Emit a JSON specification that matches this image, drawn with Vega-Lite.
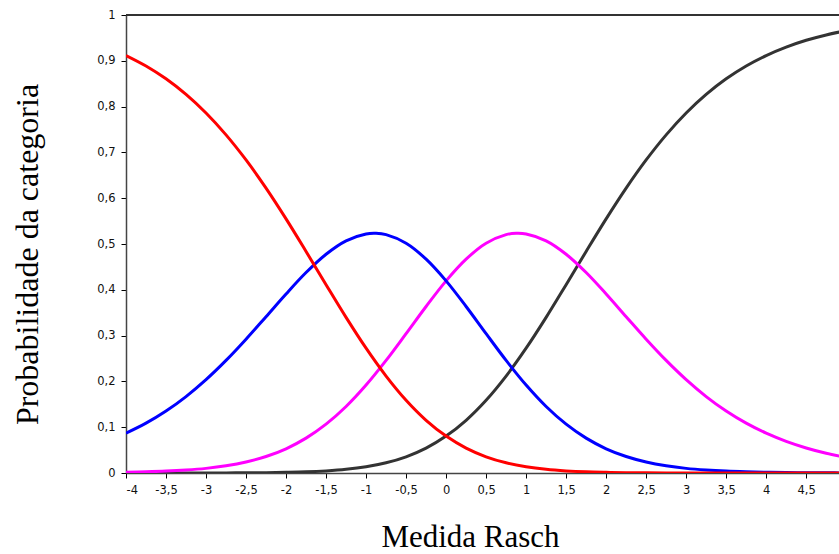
{
  "$schema": "https://vega.github.io/schema/vega-lite/v6.json",
  "width": 713,
  "height": 458,
  "autosize": {"type": "none"},
  "padding": {"left": 126, "top": 15, "right": 0, "bottom": 81},
  "background": "white",
  "config": {"view": {"stroke": null}},
  "data": {"values": [
    {"x":-4,"c":"4","p":0},{"x":-3.75,"c":"4","p":0},{"x":-3.5,"c":"4","p":0},{"x":-3.25,"c":"4","p":0.0001},{"x":-3,"c":"4","p":0.0001},{"x":-2.75,"c":"4","p":0.0002},{"x":-2.5,"c":"4","p":0.0004},{"x":-2.25,"c":"4","p":0.0007},{"x":-2,"c":"4","p":0.0014},{"x":-1.75,"c":"4","p":0.0025},{"x":-1.5,"c":"4","p":0.0046},{"x":-1.25,"c":"4","p":0.008},{"x":-1,"c":"4","p":0.0136},{"x":-0.75,"c":"4","p":0.0223},{"x":-0.5,"c":"4","p":0.0354},{"x":-0.25,"c":"4","p":0.0544},{"x":0,"c":"4","p":0.0806},{"x":0.25,"c":"4","p":0.1151},{"x":0.5,"c":"4","p":0.1588},{"x":0.75,"c":"4","p":0.2116},{"x":1,"c":"4","p":0.2725},{"x":1.25,"c":"4","p":0.3398},{"x":1.5,"c":"4","p":0.4112},{"x":1.75,"c":"4","p":0.4837},{"x":2,"c":"4","p":0.5548},{"x":2.25,"c":"4","p":0.622},{"x":2.5,"c":"4","p":0.6835},{"x":2.75,"c":"4","p":0.7383},{"x":3,"c":"4","p":0.786},{"x":3.25,"c":"4","p":0.8266},{"x":3.5,"c":"4","p":0.8606},{"x":3.75,"c":"4","p":0.8886},{"x":4,"c":"4","p":0.9115},{"x":4.25,"c":"4","p":0.9299},{"x":4.5,"c":"4","p":0.9448},{"x":4.75,"c":"4","p":0.9565},{"x":5,"c":"4","p":0.9659},
    {"x":-4,"c":"3","p":0.0016},{"x":-3.75,"c":"3","p":0.0026},{"x":-3.5,"c":"3","p":0.0041},{"x":-3.25,"c":"3","p":0.0065},{"x":-3,"c":"3","p":0.0101},{"x":-2.75,"c":"3","p":0.0157},{"x":-2.5,"c":"3","p":0.024},{"x":-2.25,"c":"3","p":0.036},{"x":-2,"c":"3","p":0.0529},{"x":-1.75,"c":"3","p":0.0761},{"x":-1.5,"c":"3","p":0.1066},{"x":-1.25,"c":"3","p":0.1452},{"x":-1,"c":"3","p":0.192},{"x":-0.75,"c":"3","p":0.2458},{"x":-0.5,"c":"3","p":0.3042},{"x":-0.25,"c":"3","p":0.3636},{"x":0,"c":"3","p":0.4195},{"x":0.25,"c":"3","p":0.4669},{"x":0.5,"c":"3","p":0.5016},{"x":0.75,"c":"3","p":0.5204},{"x":0.875,"c":"3","p":0.5233},{"x":1,"c":"3","p":0.5219},{"x":1.25,"c":"3","p":0.507},{"x":1.5,"c":"3","p":0.4777},{"x":1.75,"c":"3","p":0.4377},{"x":2,"c":"3","p":0.3909},{"x":2.25,"c":"3","p":0.3413},{"x":2.5,"c":"3","p":0.2921},{"x":2.75,"c":"3","p":0.2458},{"x":3,"c":"3","p":0.2038},{"x":3.25,"c":"3","p":0.1669},{"x":3.5,"c":"3","p":0.1353},{"x":3.75,"c":"3","p":0.1088},{"x":4,"c":"3","p":0.0869},{"x":4.25,"c":"3","p":0.0691},{"x":4.5,"c":"3","p":0.0547},{"x":4.75,"c":"3","p":0.0431},{"x":5,"c":"3","p":0.0339},
    {"x":-4,"c":"2","p":0.0869},{"x":-3.75,"c":"2","p":0.1088},{"x":-3.5,"c":"2","p":0.1353},{"x":-3.25,"c":"2","p":0.1669},{"x":-3,"c":"2","p":0.2038},{"x":-2.75,"c":"2","p":0.2458},{"x":-2.5,"c":"2","p":0.2921},{"x":-2.25,"c":"2","p":0.3413},{"x":-2,"c":"2","p":0.3909},{"x":-1.75,"c":"2","p":0.4377},{"x":-1.5,"c":"2","p":0.4777},{"x":-1.25,"c":"2","p":0.507},{"x":-1,"c":"2","p":0.5219},{"x":-0.875,"c":"2","p":0.5233},{"x":-0.75,"c":"2","p":0.5204},{"x":-0.5,"c":"2","p":0.5016},{"x":-0.25,"c":"2","p":0.4669},{"x":0,"c":"2","p":0.4195},{"x":0.25,"c":"2","p":0.3636},{"x":0.5,"c":"2","p":0.3042},{"x":0.75,"c":"2","p":0.2458},{"x":1,"c":"2","p":0.192},{"x":1.25,"c":"2","p":0.1452},{"x":1.5,"c":"2","p":0.1066},{"x":1.75,"c":"2","p":0.0761},{"x":2,"c":"2","p":0.0529},{"x":2.25,"c":"2","p":0.036},{"x":2.5,"c":"2","p":0.024},{"x":2.75,"c":"2","p":0.0157},{"x":3,"c":"2","p":0.0101},{"x":3.25,"c":"2","p":0.0065},{"x":3.5,"c":"2","p":0.0041},{"x":3.75,"c":"2","p":0.0026},{"x":4,"c":"2","p":0.0016},{"x":4.25,"c":"2","p":0.001},{"x":4.5,"c":"2","p":0.0006},{"x":4.75,"c":"2","p":0.0004},{"x":5,"c":"2","p":0.0002},
    {"x":-4,"c":"1","p":0.9115},{"x":-3.75,"c":"1","p":0.8886},{"x":-3.5,"c":"1","p":0.8606},{"x":-3.25,"c":"1","p":0.8266},{"x":-3,"c":"1","p":0.786},{"x":-2.75,"c":"1","p":0.7383},{"x":-2.5,"c":"1","p":0.6835},{"x":-2.25,"c":"1","p":0.622},{"x":-2,"c":"1","p":0.5548},{"x":-1.75,"c":"1","p":0.4837},{"x":-1.5,"c":"1","p":0.4112},{"x":-1.25,"c":"1","p":0.3398},{"x":-1,"c":"1","p":0.2725},{"x":-0.75,"c":"1","p":0.2116},{"x":-0.5,"c":"1","p":0.1588},{"x":-0.25,"c":"1","p":0.1151},{"x":0,"c":"1","p":0.0806},{"x":0.25,"c":"1","p":0.0544},{"x":0.5,"c":"1","p":0.0354},{"x":0.75,"c":"1","p":0.0223},{"x":1,"c":"1","p":0.0136},{"x":1.25,"c":"1","p":0.008},{"x":1.5,"c":"1","p":0.0046},{"x":1.75,"c":"1","p":0.0025},{"x":2,"c":"1","p":0.0014},{"x":2.25,"c":"1","p":0.0007},{"x":2.5,"c":"1","p":0.0004},{"x":2.75,"c":"1","p":0.0002},{"x":3,"c":"1","p":0.0001},{"x":3.25,"c":"1","p":0},{"x":3.5,"c":"1","p":0},{"x":3.75,"c":"1","p":0},{"x":4,"c":"1","p":0},{"x":4.25,"c":"1","p":0},{"x":4.5,"c":"1","p":0},{"x":4.75,"c":"1","p":0},{"x":5,"c":"1","p":0}
  ]},
  "layer": [
    {
      "mark": {"type": "rule", "color": "#333333", "strokeWidth": 1},
      "encoding": {"y": {"datum": 1, "type": "quantitative", "scale": {"domain": [0, 1], "nice": false}}}
    },
    {
      "mark": {"type": "line", "strokeWidth": 3, "interpolate": "catmull-rom", "clip": true},
      "encoding": {
        "x": {
          "field": "x", "type": "quantitative",
          "scale": {"domain": [-4, 4.91], "nice": false, "zero": false},
          "axis": {
            "values": [-4,-3.5,-3,-2.5,-2,-1.5,-1,-0.5,0,0.5,1,1.5,2,2.5,3,3.5,4,4.5],
            "labelExpr": "replace(toString(datum.value), '.', ',')",
            "grid": false, "domainColor": "#444444", "domainWidth": 1.5, "tickColor": "#000000", "tickSize": 5,
            "labelFont": "DejaVu Sans", "labelFontSize": 11.5, "labelColor": "#111111", "labelPadding": 6,
            "title": "Medida Rasch", "titleFont": "Liberation Serif", "titleFontSize": 31, "titleFontWeight": "normal",
            "titleColor": "#000000", "titleX": 344, "titleY": 64, "titleBaseline": "middle", "titleAlign": "center"
          }
        },
        "y": {
          "field": "p", "type": "quantitative",
          "scale": {"domain": [0, 1], "nice": false},
          "axis": {
            "values": [0,0.1,0.2,0.3,0.4,0.5,0.6,0.7,0.8,0.9,1],
            "labelExpr": "replace(toString(datum.value), '.', ',')",
            "grid": false, "domainColor": "#444444", "domainWidth": 1.5, "tickColor": "#000000", "tickSize": 5,
            "labelFont": "DejaVu Sans", "labelFontSize": 11.5, "labelColor": "#111111", "labelPadding": 6,
            "title": "Probabilidade da categoria", "titleFont": "Liberation Serif", "titleFontSize": 32, "titleFontWeight": "normal",
            "titleColor": "#000000", "titleX": -99, "titleY": 239, "titleBaseline": "middle", "titleAlign": "center", "titleAngle": -90
          }
        },
        "color": {
          "field": "c", "type": "nominal",
          "scale": {"domain": ["1","2","3","4"], "range": ["#ff0000","#0000ff","#ff00ff","#333333"]},
          "legend": null
        }
      }
    }
  ]
}
